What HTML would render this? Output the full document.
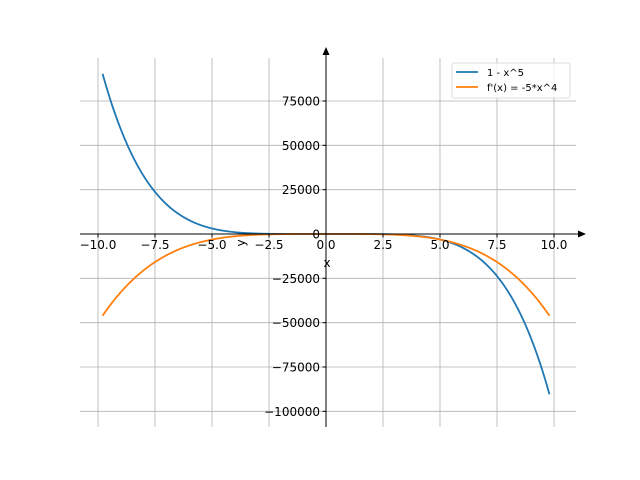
<!DOCTYPE html>
<html><head><meta charset="utf-8"><style>body{margin:0;background:#fff}svg{display:block}text{font-family:"DejaVu Sans","Liberation Sans",sans-serif;font-size:12px;fill:#000}</style></head>
<body>
<svg id="s" width="640" height="480" xmlns="http://www.w3.org/2000/svg">
<g stroke="#b0b0b0" stroke-width="0.8" id="grid"></g>
<g id="curves"></g>
<line x1="80" y1="234" x2="580" y2="234" stroke="#000" stroke-width="1"/>
<polygon points="586,234 578,230.5 578,237.5" fill="#000"/>
<line x1="326" y1="427" x2="326" y2="54" stroke="#000" stroke-width="1"/>
<polygon points="326,47 322.5,55 329.5,55" fill="#000"/>
<g id="ticks"></g>
<text x="327" y="267" text-anchor="middle">x</text>
<text transform="translate(245,243) rotate(-90)" text-anchor="middle">y</text>
<rect x="452" y="63" width="118" height="35" rx="2" fill="#fff" fill-opacity="0.8" stroke="#dcdcdc"/>
<line x1="456" y1="72" x2="478" y2="72" stroke="#1f77b4" stroke-width="1.8"/>
<line x1="456" y1="87" x2="478" y2="87" stroke="#ff7f0e" stroke-width="1.8"/>
<text x="487" y="76" style="font-size:10px">1 - x^5</text>
<text x="487" y="91" style="font-size:10px">f'(x) = -5*x^4</text>
</svg>
<script>
const X=x=>326+x*22.8, Y=y=>234-y*133/75000;
let g='',t='';
for(let v=-10;v<=10;v+=2.5){const px=X(v);g+=`<line x1="${px}" y1="58" x2="${px}" y2="427"/>`;
t+=`<line x1="${px}" y1="234" x2="${px}" y2="237.5" stroke="#000"/><text x="${px}" y="249" text-anchor="middle">${v<0?'\u2212'+(-v).toFixed(1):v.toFixed(1)}</text>`;}
for(let v=-100000;v<=75000;v+=25000){const py=Y(v);g+=`<line x1="80" y1="${py}" x2="576" y2="${py}"/>`;
t+=`<line x1="322.5" y1="${py}" x2="326" y2="${py}" stroke="#000"/><text x="320" y="${py+4.5}" text-anchor="end">${v<0?'\u2212'+(-v):v}</text>`;}
document.getElementById('grid').innerHTML=g;document.getElementById('ticks').innerHTML=t;
let a='',b='';for(let i=0;i<=400;i++){const x=-9.8+19.6*i/400;a+=(i?'L':'M')+X(x).toFixed(2)+','+Y(1-x**5).toFixed(2);b+=(i?'L':'M')+X(x).toFixed(2)+','+Y(-5*x**4).toFixed(2);}
document.getElementById('curves').innerHTML=`<path d="${a}" fill="none" stroke="#1f77b4" stroke-width="1.8"/><path d="${b}" fill="none" stroke="#ff7f0e" stroke-width="1.8"/>`;
</script>
</body></html>
